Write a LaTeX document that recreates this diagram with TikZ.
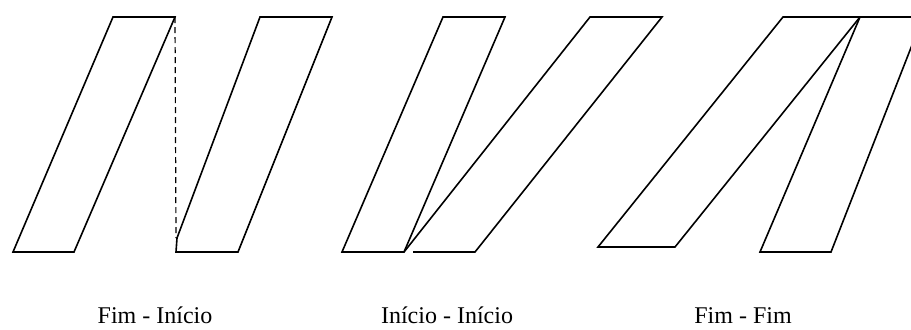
\documentclass[tikz,border=0pt]{standalone}
\usepackage{fontspec}
\setmainfont{Liberation Serif}
\usetikzlibrary{positioning}

\begin{document}
\begin{tikzpicture}[x=0.5pt, y=-0.5pt,
    barra/.style={black, line width=0.8pt, line join=miter},
    rotulo/.style={anchor=base, inner sep=1pt, font=\fontsize{12}{14}\selectfont}]
    \useasboundingbox (0,0) rectangle (911,329);

    \begin{scope}
    \clip (0,0) rectangle (911,329);
    % Fim - Inicio
    \draw[barra] (13,252) -- (74,252) -- (175,17) -- (113,17) -- cycle;
    \draw[barra] (176,252) -- (238,252) -- (332,17) -- (260,17) -- (177,238) -- cycle;
    \draw[black, line width=0.6pt, densely dashed] (175,17) -- (176,238);

    % Inicio - Inicio
    \draw[barra] (342,252) -- (404,252) -- (505,17) -- (443,17) -- cycle;
    \draw[barra] (413,252) -- (475,252) -- (662,17) -- (590,17) -- (404,252);

    % Fim - Fim
    \draw[barra] (598,247) -- (675,247) -- (860,17) -- (783,17) -- cycle;
    \draw[barra] (760,252) -- (831,252) -- (923,17) -- (860,17) -- cycle;
    \end{scope}

    % Rotulos
    \node[rotulo] (rotFI) at (155,323) {Fim - Início};
    \node[rotulo] (rotII) at (447,323) {Início - Início};
    \node[rotulo] (rotFF) at (743,323) {Fim - Fim};
\end{tikzpicture}
\end{document}
